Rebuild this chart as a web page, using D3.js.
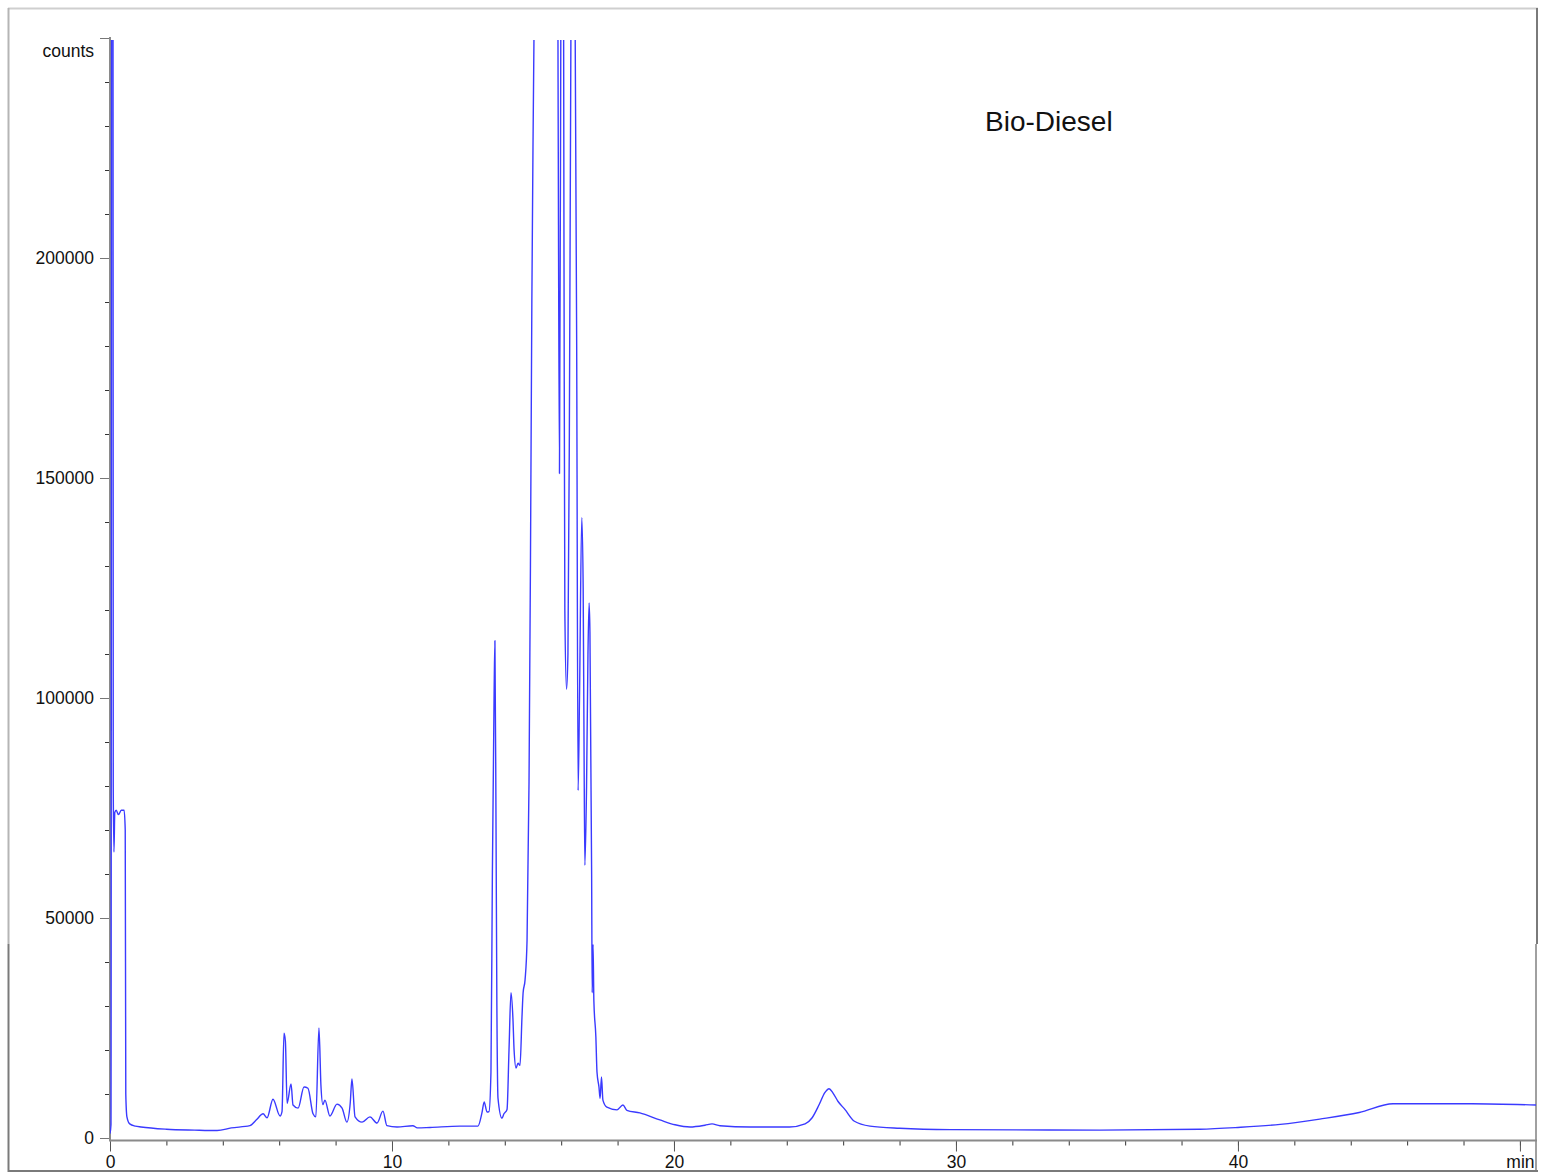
<!DOCTYPE html>
<html>
<head>
<meta charset="utf-8">
<script src="https://cdn.jsdelivr.net/npm/d3@7"></script>
<style>
  body { margin: 0; background: #fff; }
  text { font-family: "Liberation Sans", Arial, sans-serif; }
</style>
</head>
<body>
<div id="chart"></div>
<script>
// retention time (min)
const times = [
  0, 0.035, 0.07, 0.1, 0.115, 0.14, 0.17, 0.22, 0.3, 0.4, 0.5, 0.54, 0.56, 0.6, 0.7, 0.9, 1.1,
  2.0, 3.0, 3.8, 4.3, 4.96, 5.2, 5.43, 5.57, 5.78, 6.03, 6.1, 6.17, 6.22, 6.28, 6.42, 6.49,
  6.67, 6.88, 7.02, 7.2, 7.3, 7.41, 7.48, 7.55, 7.62, 7.8, 8.05, 8.23, 8.4, 8.52, 8.58, 8.69,
  8.94, 9.22, 9.47, 9.68, 9.82, 10.18, 10.74, 10.9, 11.35, 12.41, 13.05, 13.19, 13.27, 13.37,
  13.44, 13.51, 13.56, 13.62, 13.65, 13.69, 13.72, 13.76, 13.9, 13.97, 14.08, 14.15, 14.22,
  14.29, 14.33, 14.4, 14.47, 14.54, 14.61, 14.65, 14.72, 14.79, 14.86, 14.91, 14.96, 15.0,
  15.05, 15.25, 15.82, 15.89, 15.94, 15.99, 16.04, 16.1, 16.13, 16.19, 16.24, 16.29, 16.35,
  16.42, 16.49, 16.55, 16.6, 16.65, 16.73, 16.78, 16.81, 16.84, 16.9, 16.95, 16.99, 17.02,
  17.08, 17.1, 17.13, 17.16, 17.23, 17.27, 17.34, 17.38, 17.43, 17.48, 17.62, 17.98, 18.19,
  18.33, 18.79, 19.5, 20.04, 20.57, 21.1, 21.35, 21.63, 22.7, 24.1, 24.65, 24.9, 25.15, 25.35,
  25.5, 25.64, 25.82, 26.06, 26.4, 26.95, 28.0, 29.8, 35.1, 38.65, 40.0, 41.5, 42.9, 44.3,
  45.5, 48.3, 50.6
];

// detector counts at each time
const counts = [
  1000, 3000, 400000, 400000, 80000, 65000, 74000, 74500, 73500, 74500, 74500, 70000, 10000, 4800, 3200, 2700, 2500,
  2000, 1800, 1700, 2300, 2800, 4200, 5500, 4600, 8800, 5000, 6000, 23800, 22000, 7900, 12300, 7500,
  6800, 11600, 11300, 5500, 4800, 25000, 12000, 7600, 8600, 5000, 7700, 6800, 3600, 8000, 13400, 4800,
  3600, 4800, 3400, 6100, 2800, 2500, 2800, 2300, 2400, 2700, 2700, 5700, 8200, 5900,
  6000, 15000, 60000, 100000, 113000, 70000, 30000, 9000, 4500, 5500, 6500, 20000, 33000,
  27000, 20000, 15900, 17000, 16500, 27500, 33000, 36000, 45000, 81000, 130000, 190000, 225000,
  260000, 400000, 400000, 240000, 151000, 260000, 400000, 200000, 120000, 102000, 110000, 160000, 260000,
  400000, 260000, 180000, 79000, 100000, 141000, 125000, 90000, 62000, 80000, 110000, 121600, 115000,
  60000, 33000, 44000, 31000, 23000, 15000, 11600, 9000, 13900, 8600, 7000, 6400, 7500,
  6300, 5700, 4100, 3000, 2500, 2900, 3200, 2800, 2500, 2500, 3200, 4600, 7600, 10300,
  11200, 10200, 8300, 6500, 3800, 2700, 2200, 1900, 1800, 2000, 2400, 3100, 4300, 5800,
  7800, 7800, 7500
];

const yMajor = [0, 50000, 100000, 150000, 200000, 250000];
const xMajor = [0, 10, 20, 30, 40, 50];
const yLabel = "counts";
const xLabel = "min";
const title = "Bio-Diesel";

const W = 1543, H = 1175;
const plotLeft = 110, plotRight = 1536, plotTop = 38, zeroY = 1138;

const svg = d3.select("#chart")
  .append("svg")
  .attr("width", W)
  .attr("height", H);

// outer frame
svg.append("line").attr("x1", 8).attr("x2", 1538).attr("y1", 8.5).attr("y2", 8.5)
  .attr("stroke", "#cfcfcf").attr("stroke-width", 2);
svg.append("line").attr("x1", 8.5).attr("x2", 8.5).attr("y1", 8).attr("y2", 944)
  .attr("stroke", "#b5b5b5").attr("stroke-width", 2);
svg.append("line").attr("x1", 8.5).attr("x2", 8.5).attr("y1", 944).attr("y2", 1172)
  .attr("stroke", "#7a7a7a").attr("stroke-width", 2);
svg.append("line").attr("x1", 1537).attr("x2", 1537).attr("y1", 8).attr("y2", 944)
  .attr("stroke", "#7a7a7a").attr("stroke-width", 2);
svg.append("line").attr("x1", 1536).attr("x2", 1536).attr("y1", 944).attr("y2", 1172)
  .attr("stroke", "#a0a0a0").attr("stroke-width", 2);
svg.append("line").attr("x1", 8).attr("x2", 1538).attr("y1", 1171).attr("y2", 1171)
  .attr("stroke", "#7a7a7a").attr("stroke-width", 2);

const x = d3.scaleLinear().domain([0, 50.57]).range([plotLeft, plotRight]);
const y = d3.scaleLinear().domain([0, 250000]).range([zeroY, plotTop]);

// y axis: minor ticks every 10000, major every 50000
svg.append("g")
  .attr("transform", "translate(" + plotLeft + ",0)")
  .call(d3.axisLeft(y).tickValues(d3.range(0, 250001, 10000)).tickSize(5).tickFormat(""))
  .call(function (g) { g.select(".domain").remove(); })
  .selectAll("line").attr("stroke", "#333");

const yAxis = svg.append("g")
  .attr("transform", "translate(" + plotLeft + ",0)")
  .call(d3.axisLeft(y).tickValues(yMajor).tickSize(10).tickPadding(6)
    .tickFormat(function (d) { return d === 250000 ? "" : d; }));
yAxis.select(".domain").remove();
yAxis.selectAll("line").attr("stroke", "#777");
yAxis.selectAll("text").attr("font-size", "17.5px").attr("fill", "#111")
  .attr("font-family", "Liberation Sans, Arial, sans-serif");

svg.append("text")
  .attr("x", 94)
  .attr("y", 57)
  .attr("text-anchor", "end")
  .attr("font-size", "17.5px")
  .attr("fill", "#111")
  .text(yLabel);

// x axis sits a hair under the zero line
const axisY = 1140.5;
svg.append("g")
  .attr("transform", "translate(0," + axisY + ")")
  .call(d3.axisBottom(x).tickValues(d3.range(0, 51, 2)).tickSize(5).tickFormat(""))
  .call(function (g) { g.select(".domain").remove(); })
  .selectAll("line").attr("stroke", "#333");

const xAxis = svg.append("g")
  .attr("transform", "translate(0," + axisY + ")")
  .call(d3.axisBottom(x).tickValues(xMajor).tickSize(11).tickPadding(4)
    .tickFormat(function (d) { return d === 50 ? xLabel : d; }));
xAxis.select(".domain").remove();
xAxis.selectAll("line").attr("stroke", "#555");
xAxis.selectAll("text").attr("font-size", "17.5px").attr("fill", "#111")
  .attr("font-family", "Liberation Sans, Arial, sans-serif");

// axis lines
svg.append("line")
  .attr("x1", plotLeft).attr("x2", plotLeft).attr("y1", plotTop - 1).attr("y2", axisY + 1)
  .attr("stroke", "#8a8a8a").attr("stroke-width", 2);
svg.append("line")
  .attr("x1", plotLeft).attr("x2", plotRight + 1).attr("y1", axisY).attr("y2", axisY)
  .attr("stroke", "#8a8a8a").attr("stroke-width", 2);

// trace, clipped to the plot area
svg.append("clipPath").attr("id", "plot-clip")
  .append("rect")
  .attr("x", plotLeft).attr("y", plotTop + 2)
  .attr("width", plotRight - plotLeft).attr("height", zeroY - plotTop);

const data = times.map(function (t, i) { return { t: t, v: counts[i] }; });

svg.append("path")
  .datum(data)
  .attr("clip-path", "url(#plot-clip)")
  .attr("fill", "none")
  .attr("stroke", "#3a3aff")
  .attr("stroke-width", 1.4)
  .attr("stroke-linejoin", "round")
  .attr("d", d3.line()
    .curve(d3.curveMonotoneX)
    .x(function (d) { return x(d.t); })
    .y(function (d) { return y(d.v); }));

svg.append("text")
  .attr("x", 985)
  .attr("y", 131)
  .attr("font-size", "28px")
  .attr("fill", "#111")
  .text(title);
</script>
</body>
</html>
